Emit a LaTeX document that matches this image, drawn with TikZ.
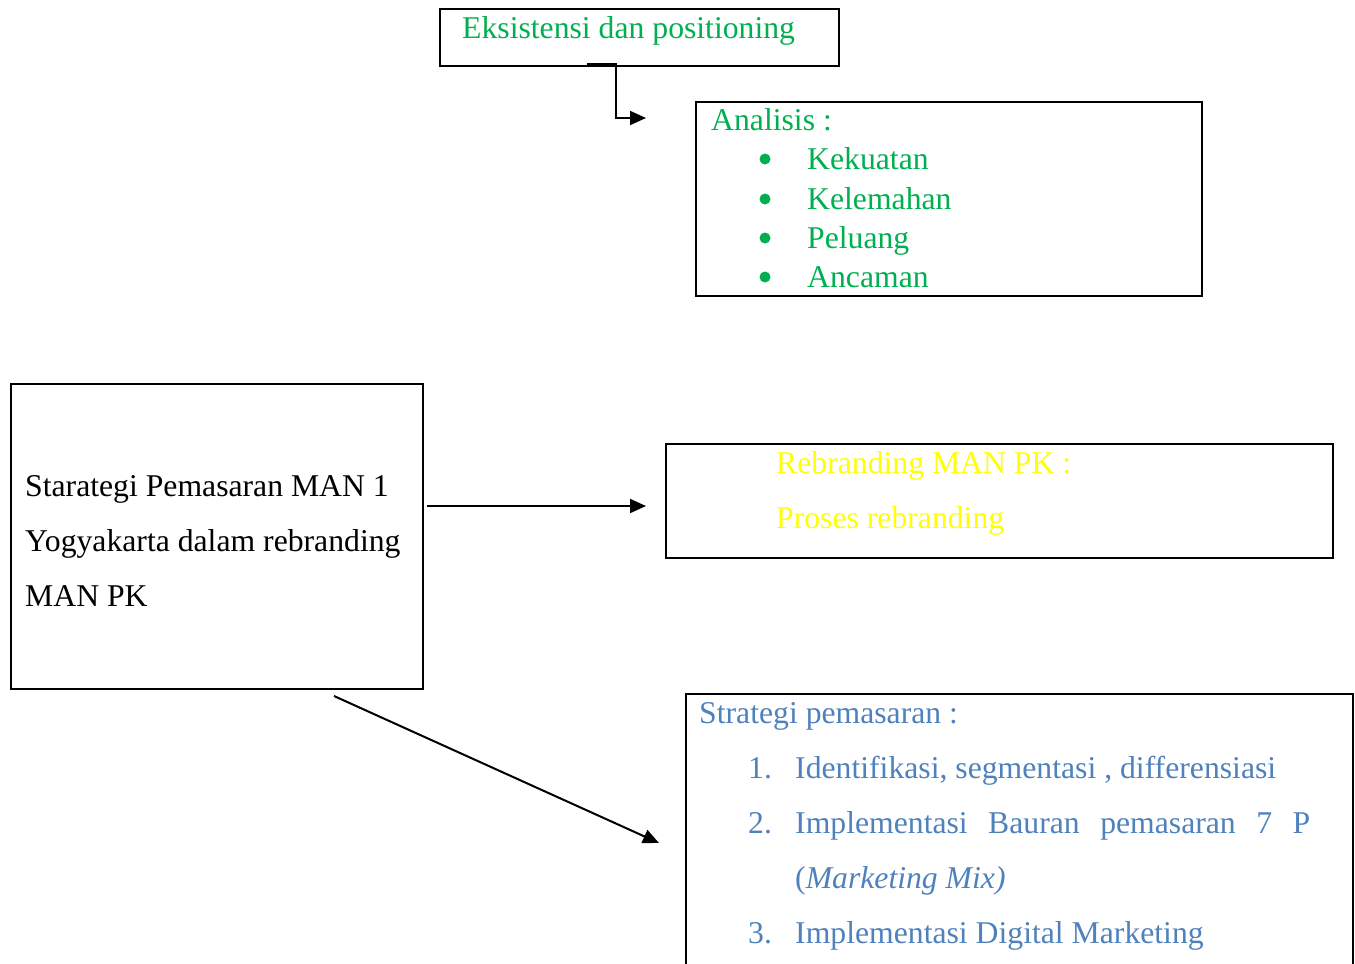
\documentclass[tikz,border=0pt]{standalone}
\usepackage{fontspec}
\setmainfont{Liberation Serif}
\usetikzlibrary{arrows.meta,calc}
\definecolor{wgreen}{RGB}{0,176,80}
\definecolor{wyellow}{RGB}{255,255,0}
\definecolor{wblue}{RGB}{79,129,189}
\tikzset{
  box/.style={draw=black, line width=2pt, rectangle, inner sep=0pt, anchor=north west},
  txt/.style={anchor=base west, inner sep=0pt, font=\fontsize{31.7}{38}\selectfont},
  conn/.style={line width=2pt, -{Triangle[length=16pt,width=14pt]}},
  bul/.style={circle, fill=wgreen, inner sep=0pt, minimum size=11pt}
}
\begin{document}
\begin{tikzpicture}[x=1pt,y=-1pt]
\useasboundingbox (0,0) rectangle (1355,964);
\clip (0,0) rectangle (1355,964);
% boxes
\node[box, minimum width=399pt, minimum height=57pt] (eks) at (439,8) {};
\node[box, minimum width=506pt, minimum height=194pt] (ana) at (695,101) {};
\node[box, minimum width=412pt, minimum height=305pt] (str) at (10,383) {};
\node[box, minimum width=667pt, minimum height=114pt] (reb) at (665,443) {};
\node[box, minimum width=667pt, minimum height=320pt] (pem) at (685,693) {};
% texts
\node[txt, text=wgreen] (t1) at (462,38) {Eksistensi dan positioning};
\node[txt, text=wgreen] (a0) at (711,130) {Analisis :};
\foreach \y/\w [count=\i] in {169/Kekuatan,209/Kelemahan,248/Peluang,287/Ancaman}{
  \node[bul] (b\i) at (765,\y-10) {};
  \node[txt, text=wgreen] (a\i) at (807,\y) {\w};
}
\node[txt] (s1) at (25,496) {Starategi Pemasaran MAN 1};
\node[txt] (s2) at (25,551) {Yogyakarta dalam rebranding};
\node[txt] (s3) at (25,606) {MAN PK};
\node[txt, text=wyellow] (r1) at (776,473) {Rebranding MAN PK :};
\node[txt, text=wyellow] (r2) at (776,528) {Proses rebranding};
\node[txt, text=wblue] (p0) at (699,723) {Strategi pemasaran :};
\node[txt, text=wblue] (n1) at (748,778) {1.};
\node[txt, text=wblue] (p1) at (795,778) {Identifikasi, segmentasi , differensiasi};
\node[txt, text=wblue] (n2) at (748,833) {2.};
\node[txt, text=wblue] (p2) at (795,833) {\makebox[515pt][s]{Implementasi Bauran pemasaran 7 P}};
\node[txt, text=wblue] (p2b) at (795,888) {(\textit{Marketing Mix)}};
\node[txt, text=wblue] (n3) at (748,943) {3.};
\node[txt, text=wblue] (p3) at (795,943) {Implementasi Digital Marketing};
% connectors
\coordinate (c1s) at (587,64);
\coordinate (c1e) at (646,118);
\draw[conn] (c1s) -- (616,64) -- (616,118) -- (c1e);
\coordinate (c2s) at (427,506);
\coordinate (c2e) at (646,506);
\draw[conn] (c2s) -- (c2e);
\coordinate (c3s) at (334,696);
\coordinate (c3e) at (659,843);
\draw[conn] (c3s) -- (c3e);
\end{tikzpicture}
\end{document}
